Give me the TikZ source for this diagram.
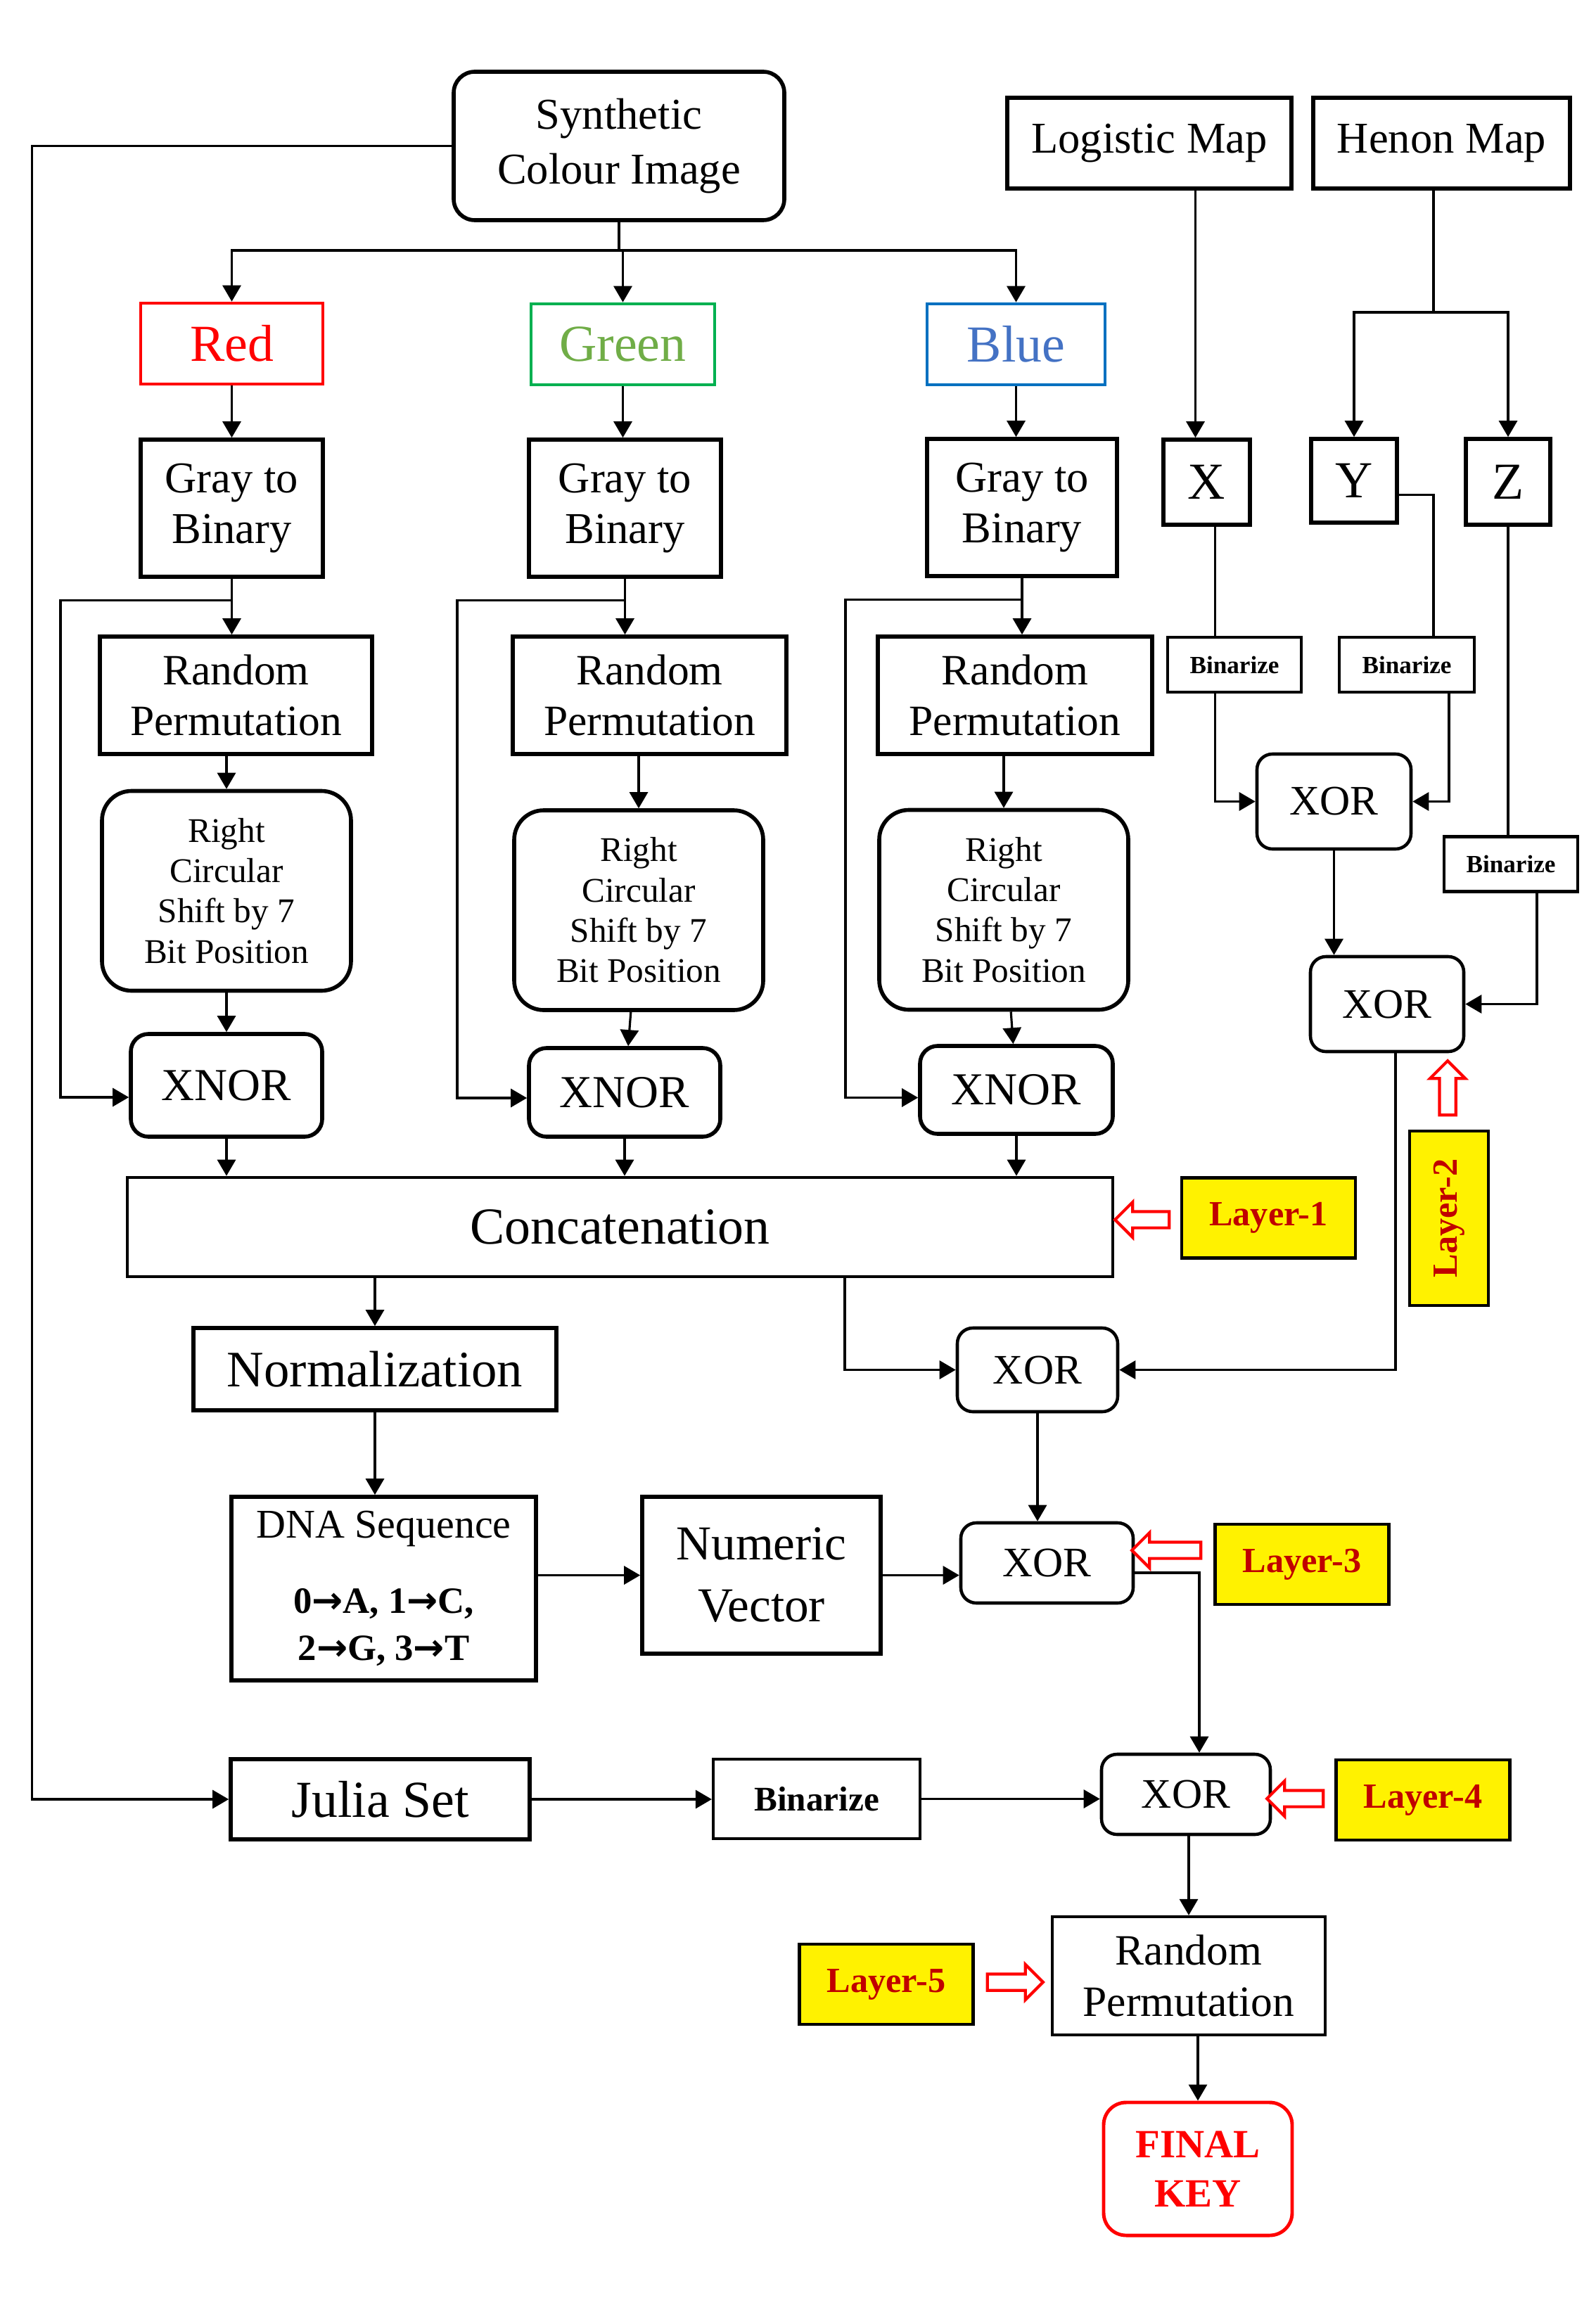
\documentclass[tikz,border=0pt]{standalone}
\usepackage{fontspec}
\setmainfont{Liberation Serif}
\newfontfamily\arrfont{DejaVu Sans}
\usetikzlibrary{arrows.meta, shapes.arrows, calc}
\definecolor{cred}{RGB}{255,0,0}
\definecolor{cgreen}{RGB}{0,176,80}
\definecolor{cgreentext}{RGB}{112,173,71}
\definecolor{cblue}{RGB}{0,112,192}
\definecolor{cbluetext}{RGB}{68,114,196}
\definecolor{clayer}{RGB}{192,0,0}

\begin{document}
\begin{tikzpicture}[
  >={Triangle[length=2.3mm, width=2.6mm]},
  box/.style ={draw, line width=1.6pt, align=center, inner sep=0pt, font=\fontsize{17.8}{20.5}\selectfont},
  rbox/.style={box, rounded corners=0.25cm},
  chan/.style={draw, line width=1.3pt, inner sep=0pt, font=\fontsize{21}{24}\selectfont, minimum height=1.15cm},
  gate/.style={rbox, line width=1.3pt, rounded corners=0.22cm, font=\fontsize{17}{20}\selectfont},
  rshift/.style={rbox, rounded corners=0.42cm, font=\fontsize{14}{16.3}\selectfont, minimum width=3.54cm, minimum height=2.84cm},
  perm/.style={box, font=\fontsize{17.5}{20.7}\selectfont, minimum height=1.67cm},
  binbox/.style={draw, line width=1.2pt, inner sep=0pt, font=\fontsize{10}{12}\selectfont\bfseries, minimum height=0.78cm},
  layer/.style={draw, line width=1.4pt, fill=yellow, text=clayer, inner sep=0pt, font=\fontsize{14.3}{17}\selectfont\bfseries, minimum width=2.47cm, minimum height=1.14cm},
  hollow/.style={single arrow, draw=cred, fill=white, line width=1.2pt, inner xsep=0pt, inner ysep=0.095cm, single arrow head extend=0.135cm, minimum width=0pt},
  link/.style={draw, line width=0.9pt},
]
\useasboundingbox (0,0) rectangle (22.68,-32.77);

% ---- source image and the three colour channels
\node[rbox, rounded corners=0.3cm, font=\fontsize{17.8}{22}\selectfont, minimum width=4.70cm, minimum height=2.11cm] (syn) at (8.80,-2.075) {Synthetic\\Colour Image};
\node[chan, draw=cred, text=cred, minimum width=2.59cm] (red) at (3.295,-4.885) {Red};
\node[chan, draw=cgreen, text=cgreentext, minimum width=2.61cm] (green) at (8.855,-4.895) {Green};
\node[chan, draw=cblue, text=cbluetext, minimum width=2.53cm] (blue) at (14.445,-4.895) {Blue};

% ---- channel processing
\node[box, minimum width=2.59cm, minimum height=1.95cm] (gtbR) at (3.295,-7.225) {Gray to\\Binary};
\node[box, minimum width=2.73cm, minimum height=1.95cm] (gtbG) at (8.885,-7.225) {Gray to\\Binary};
\node[box, minimum width=2.70cm, minimum height=1.95cm] (gtbB) at (14.53,-7.215) {Gray to\\Binary};
\node[perm, minimum width=3.87cm] (rpR) at (3.355,-9.885) {Random\\Permutation};
\node[perm, minimum width=3.89cm] (rpG) at (9.235,-9.885) {Random\\Permutation};
\node[perm, minimum width=3.90cm] (rpB) at (14.43,-9.885) {Random\\Permutation};
\node[rshift] (rcsR) at (3.22,-12.665) {Right\\Circular\\Shift by 7\\Bit Position};
\node[rshift] (rcsG) at (9.08,-12.94) {Right\\Circular\\Shift by 7\\Bit Position};
\node[rshift] (rcsB) at (14.27,-12.935) {Right\\Circular\\Shift by 7\\Bit Position};
\node[rbox, font=\fontsize{18.5}{21}\selectfont, minimum width=2.72cm, minimum height=1.46cm] (xnR) at (3.22,-15.43) {XNOR};
\node[rbox, font=\fontsize{18.5}{21}\selectfont, minimum width=2.72cm, minimum height=1.26cm] (xnG) at (8.88,-15.53) {XNOR};
\node[rbox, font=\fontsize{18.5}{21}\selectfont, minimum width=2.74cm, minimum height=1.25cm] (xnB) at (14.45,-15.495) {XNOR};
\node[box, line width=1.3pt, font=\fontsize{21}{24}\selectfont, minimum width=14.01cm, minimum height=1.41cm] (concat) at (8.815,-17.445) {Concatenation};

% ---- chaotic maps
\node[box, minimum width=4.04cm, minimum height=1.29cm] (logi) at (16.34,-2.035) {Logistic Map};
\node[box, minimum width=3.65cm, minimum height=1.29cm] (henon) at (20.495,-2.035) {Henon Map};
\node[box, font=\fontsize{21}{24}\selectfont, minimum width=1.23cm, minimum height=1.21cm] (bx) at (17.155,-6.855) {X};
\node[box, font=\fontsize{21}{24}\selectfont, minimum width=1.22cm, minimum height=1.19cm] (by) at (19.25,-6.835) {Y};
\node[box, font=\fontsize{21}{24}\selectfont, minimum width=1.20cm, minimum height=1.22cm] (bz) at (21.44,-6.85) {Z};
\node[binbox, minimum width=1.90cm] (binX) at (17.55,-9.45) {Binarize};
\node[binbox, minimum width=1.92cm] (binY) at (20.00,-9.45) {Binarize};
\node[binbox, minimum width=1.90cm] (binZ) at (21.48,-12.285) {Binarize};
\node[gate, minimum width=2.19cm, minimum height=1.35cm] (xor1) at (18.965,-11.395) {XOR};
\node[gate, minimum width=2.18cm, minimum height=1.35cm] (xor2) at (19.72,-14.275) {XOR};

% ---- lower part
\node[gate, minimum width=2.28cm, minimum height=1.19cm] (xor5) at (14.75,-19.475) {XOR};
\node[box, font=\fontsize{20.7}{24}\selectfont, minimum width=5.16cm, minimum height=1.17cm] (norm) at (5.33,-19.465) {Normalization};
\node[box, font=\fontsize{15}{19}\selectfont, minimum width=4.33cm, minimum height=2.61cm] (dna) at (5.455,-22.585) {{\fontsize{16.5}{19}\selectfont DNA Sequence}\\[0.4cm]\textbf{0{\arrfont →}A, 1{\arrfont →}C,}\\\textbf{2{\arrfont →}G, 3{\arrfont →}T}};
\node[box, font=\fontsize{19.7}{25}\selectfont, minimum width=3.39cm, minimum height=2.23cm] (numv) at (10.825,-22.395) {Numeric\\Vector};
\node[gate, minimum width=2.45cm, minimum height=1.14cm] (xor3) at (14.885,-22.22) {XOR};
\node[box, font=\fontsize{21}{24}\selectfont, minimum width=4.25cm, minimum height=1.14cm] (julia) at (5.405,-25.58) {Julia Set};
\node[binbox, font=\fontsize{14}{16}\selectfont\bfseries, minimum width=2.94cm, minimum height=1.13cm] (bin4) at (11.61,-25.575) {Binarize};
\node[gate, minimum width=2.40cm, minimum height=1.14cm] (xor4) at (16.86,-25.51) {XOR};
\node[perm, line width=1.2pt, minimum width=3.88cm, minimum height=1.68cm] (rpF) at (16.90,-28.09) {Random\\Permutation};
\node[rbox, draw=cred, text=cred, line width=1.4pt, rounded corners=0.32cm, font=\fontsize{16.2}{19.8}\selectfont\bfseries, minimum width=2.68cm, minimum height=1.89cm] (key) at (17.03,-30.835) {FINAL\\KEY};

% ---- layer tags
\node[layer] (lay1) at (18.035,-17.315) {Layer-1};
\node[layer, rotate=90, minimum width=2.48cm, minimum height=1.12cm] (lay2) at (20.60,-17.32) {Layer-2};
\node[layer] (lay3) at (18.51,-22.24) {Layer-3};
\node[layer] (lay4) at (20.23,-25.59) {Layer-4};
\node[layer] (lay5) at (12.60,-28.21) {Layer-5};
\node[hollow, shape border rotate=180, minimum height=0.77cm] (h1) at (16.295,-17.34) {};
\node[hollow, shape border rotate=90, inner xsep=0.095cm, inner ysep=0pt, minimum height=0.77cm] (h2) at (20.58,-15.525) {};
\node[hollow, shape border rotate=180, minimum height=0.98cm] (h3) at (16.64,-22.04) {};
\node[hollow, shape border rotate=180, minimum height=0.80cm] (h4) at (18.47,-25.57) {};
\node[hollow, minimum height=0.79cm] (h5) at (14.375,-28.18) {};

% ---- split into channels
\coordinate (bus) at (8.80,-3.56);
\draw[link] (syn.south) -- (bus);
\draw[link, ->] (bus) -| (red.north);
\draw[link, ->] (bus) -| (green.north);
\draw[link, ->] (bus) -| (blue.north);

% ---- red column
\draw[link, ->] (red) -- (gtbR);
\draw[link, ->] (gtbR.south) -- (gtbR.south |- rpR.north);
\draw[link, ->] (rcsR.north |- rpR.south) -- (rcsR.north);
\draw[link, ->] (rcsR) -- (xnR);
\draw[link, ->] (xnR.south) -- (xnR.south |- concat.north);
\coordinate (tapR) at ($(gtbR.south)+(0,-0.31)$);
\draw[link, ->] (tapR) -- ++(-2.435,0) |- ([yshift=-0.17cm]xnR.west);

% ---- green column
\draw[link, ->] (green.south) -- (green.south |- gtbG.north);
\draw[link, ->] (gtbG.south) -- (gtbG.south |- rpG.north);
\draw[link, ->] (rcsG.north |- rpG.south) -- (rcsG.north);
\draw[link, ->] (rcsG) -- (xnG);
\draw[link, ->] (xnG.south) -- (xnG.south |- concat.north);
\coordinate (tapG) at ($(gtbG.south)+(0,-0.31)$);
\draw[link, ->] (tapG) -- ++(-2.385,0) |- ([yshift=-0.08cm]xnG.west);

% ---- blue column
\draw[link, ->] (blue.south) -- (blue.south |- gtbB.north);
\draw[link, ->] (gtbB.south) -- (gtbB.south |- rpB.north);
\draw[link, ->] (rcsB.north |- rpB.south) -- (rcsB.north);
\draw[link, ->] (rcsB) -- (xnB);
\draw[link, ->] (xnB.south) -- (xnB.south |- concat.north);
\coordinate (tapB) at ($(gtbB.south)+(0,-0.31)$);
\draw[link, ->] (tapB) -- ++(-2.51,0) |- ([yshift=-0.11cm]xnB.west);

% ---- maps
\draw[link, ->] ([xshift=-0.16cm]logi.south -| bx.north) -- ([xshift=-0.16cm]bx.north);
\coordinate (hsplit) at (20.38,-4.44);
\draw[link] (hsplit |- henon.south) -- (hsplit);
\draw[link, ->] (hsplit) -| (by);
\draw[link, ->] (hsplit) -| (bz);
\draw[link] ([xshift=0.12cm]bx.south) -- ([xshift=0.12cm]bx.south |- binX.north);
\draw[link, ->] ([xshift=0.12cm]bx.south |- binX.south) |- (xor1.west);
\draw[link] ([yshift=-0.2cm]by.east) -| ([xshift=0.38cm]binY.north);
\draw[link, ->] ([xshift=0.6cm]binY.south) |- (xor1.east);
\draw[link] (bz.south) -- (bz.south |- binZ.north);
\draw[link, ->] ([xshift=0.37cm]binZ.south) |- (xor2.east);
\draw[link, ->] (xor1.south) -- (xor1.south |- xor2.north);
\draw[link, ->] ([xshift=0.12cm]xor2.south) |- (xor5.east);

% ---- lower flow
\coordinate (ctap) at (12.01,-18.15);
\draw[link, ->] (ctap) |- (xor5.west);
\draw[link, ->] (norm.north |- concat.south) -- (norm.north);
\draw[link, ->] (norm.south) -- (norm.south |- dna.north);
\draw[link, ->] (dna.east |- numv.west) -- (numv.west);
\draw[link, ->] (numv.east) -- (numv.east -| xor3.west);
\draw[link, ->] (xor5.south) -- (xor5.south |- xor3.north);
\draw[link, ->] ([yshift=-0.14cm]xor3.east) -| ([xshift=0.19cm]xor4.north);
\draw[link, ->] (syn.west) -- ++(-5.97,0) |- (julia.west);
\draw[link, ->] (julia.east) -- (julia.east -| bin4.west);
\draw[link, ->] (bin4.east) -- (bin4.east -| xor4.west);
\draw[link, ->] (rpF.north |- xor4.south) -- (rpF.north);
\draw[link, ->] (key.north |- rpF.south) -- (key.north);

\end{tikzpicture}
\end{document}
